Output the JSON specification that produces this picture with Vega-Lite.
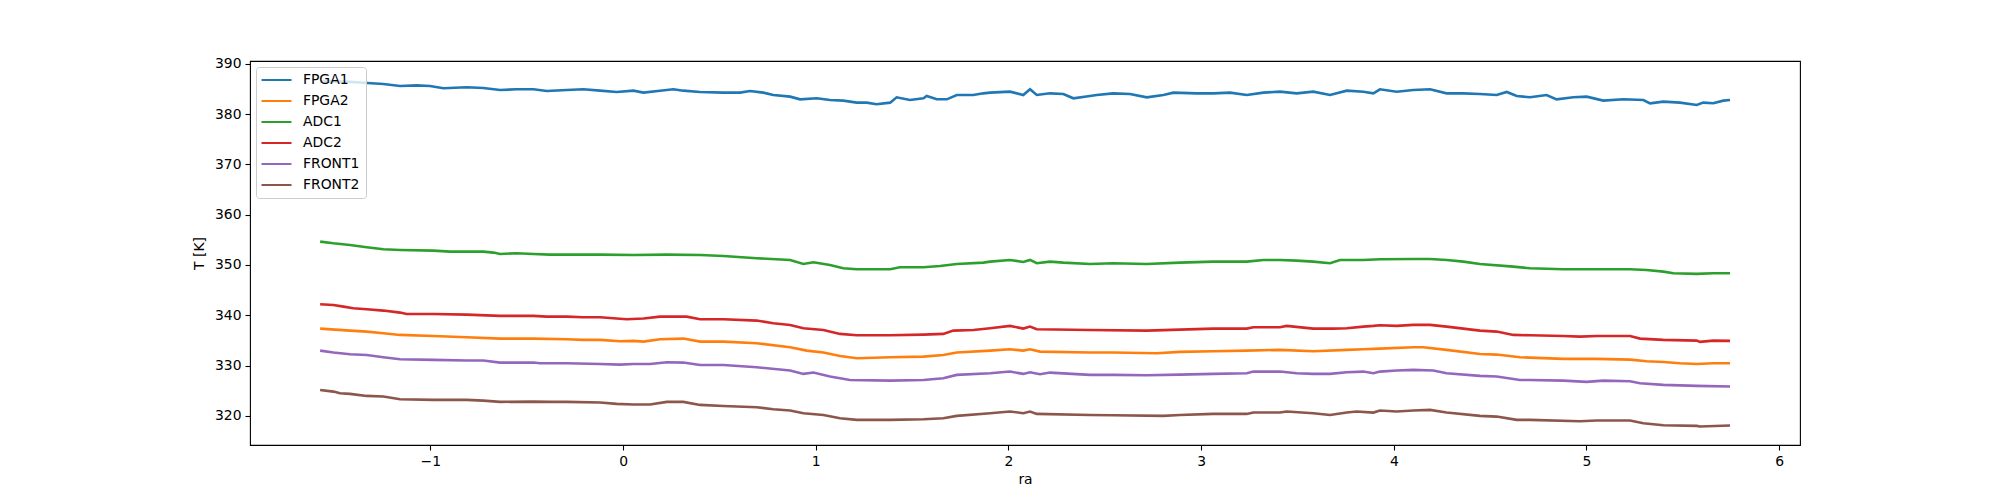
{
  "$schema": "https://vega.github.io/schema/vega-lite/v6.json",
  "width": 1550,
  "height": 384,
  "autosize": "none",
  "padding": {"left": 250, "top": 61, "right": 200, "bottom": 55},
  "background": "white",
  "config": {
    "font": "DejaVu Sans",
    "view": {"stroke": "black", "strokeWidth": 1.1},
    "axis": {
      "grid": false, "domain": false, "tickColor": "black", "tickSize": 5, "tickWidth": 1.1,
      "labelColor": "black", "labelFontSize": 13.9, "labelPadding": 4, "labelFont": "DejaVu Sans",
      "titleColor": "black", "titleFontSize": 13.9, "titleFontWeight": "normal", "titleFont": "DejaVu Sans"
    }
  },
  "data": {"values": [
    {"s":"FPGA1","ra":-1.572,"T":386.5},{"s":"FPGA1","ra":-1.434,"T":386.45},{"s":"FPGA1","ra":-1.348,"T":386.25},{"s":"FPGA1","ra":-1.244,"T":386.0},{"s":"FPGA1","ra":-1.157,"T":385.6},{"s":"FPGA1","ra":-1.071,"T":385.72},{"s":"FPGA1","ra":-1.002,"T":385.6},{"s":"FPGA1","ra":-0.932,"T":385.13},{"s":"FPGA1","ra":-0.811,"T":385.33},{"s":"FPGA1","ra":-0.725,"T":385.2},{"s":"FPGA1","ra":-0.638,"T":384.8},{"s":"FPGA1","ra":-0.552,"T":384.93},{"s":"FPGA1","ra":-0.465,"T":384.93},{"s":"FPGA1","ra":-0.396,"T":384.6},{"s":"FPGA1","ra":-0.292,"T":384.8},{"s":"FPGA1","ra":-0.206,"T":384.93},{"s":"FPGA1","ra":-0.119,"T":384.66},{"s":"FPGA1","ra":-0.033,"T":384.4},{"s":"FPGA1","ra":0.054,"T":384.66},{"s":"FPGA1","ra":0.106,"T":384.27},{"s":"FPGA1","ra":0.192,"T":384.66},{"s":"FPGA1","ra":0.261,"T":384.93},{"s":"FPGA1","ra":0.313,"T":384.66},{"s":"FPGA1","ra":0.4,"T":384.4},{"s":"FPGA1","ra":0.521,"T":384.27},{"s":"FPGA1","ra":0.607,"T":384.27},{"s":"FPGA1","ra":0.659,"T":384.6},{"s":"FPGA1","ra":0.728,"T":384.27},{"s":"FPGA1","ra":0.78,"T":383.8},{"s":"FPGA1","ra":0.867,"T":383.47},{"s":"FPGA1","ra":0.919,"T":382.94},{"s":"FPGA1","ra":1.005,"T":383.14},{"s":"FPGA1","ra":1.074,"T":382.81},{"s":"FPGA1","ra":1.143,"T":382.68},{"s":"FPGA1","ra":1.213,"T":382.28},{"s":"FPGA1","ra":1.264,"T":382.28},{"s":"FPGA1","ra":1.316,"T":381.95},{"s":"FPGA1","ra":1.386,"T":382.28},{"s":"FPGA1","ra":1.42,"T":383.34},{"s":"FPGA1","ra":1.489,"T":382.81},{"s":"FPGA1","ra":1.559,"T":383.14},{"s":"FPGA1","ra":1.576,"T":383.6},{"s":"FPGA1","ra":1.628,"T":382.94},{"s":"FPGA1","ra":1.68,"T":382.94},{"s":"FPGA1","ra":1.732,"T":383.8},{"s":"FPGA1","ra":1.818,"T":383.8},{"s":"FPGA1","ra":1.87,"T":384.13},{"s":"FPGA1","ra":1.905,"T":384.27},{"s":"FPGA1","ra":2.008,"T":384.46},{"s":"FPGA1","ra":2.077,"T":383.8},{"s":"FPGA1","ra":2.112,"T":384.93},{"s":"FPGA1","ra":2.147,"T":383.8},{"s":"FPGA1","ra":2.216,"T":384.13},{"s":"FPGA1","ra":2.285,"T":384.0},{"s":"FPGA1","ra":2.337,"T":383.14},{"s":"FPGA1","ra":2.423,"T":383.6},{"s":"FPGA1","ra":2.458,"T":383.8},{"s":"FPGA1","ra":2.544,"T":384.13},{"s":"FPGA1","ra":2.631,"T":384.0},{"s":"FPGA1","ra":2.718,"T":383.34},{"s":"FPGA1","ra":2.804,"T":383.8},{"s":"FPGA1","ra":2.856,"T":384.27},{"s":"FPGA1","ra":2.977,"T":384.13},{"s":"FPGA1","ra":3.063,"T":384.13},{"s":"FPGA1","ra":3.15,"T":384.27},{"s":"FPGA1","ra":3.237,"T":383.8},{"s":"FPGA1","ra":3.323,"T":384.27},{"s":"FPGA1","ra":3.409,"T":384.46},{"s":"FPGA1","ra":3.496,"T":384.13},{"s":"FPGA1","ra":3.582,"T":384.46},{"s":"FPGA1","ra":3.669,"T":383.8},{"s":"FPGA1","ra":3.756,"T":384.66},{"s":"FPGA1","ra":3.842,"T":384.46},{"s":"FPGA1","ra":3.894,"T":384.13},{"s":"FPGA1","ra":3.928,"T":384.93},{"s":"FPGA1","ra":4.015,"T":384.46},{"s":"FPGA1","ra":4.101,"T":384.8},{"s":"FPGA1","ra":4.188,"T":384.93},{"s":"FPGA1","ra":4.274,"T":384.13},{"s":"FPGA1","ra":4.361,"T":384.13},{"s":"FPGA1","ra":4.447,"T":384.0},{"s":"FPGA1","ra":4.534,"T":383.8},{"s":"FPGA1","ra":4.586,"T":384.4},{"s":"FPGA1","ra":4.638,"T":383.6},{"s":"FPGA1","ra":4.707,"T":383.34},{"s":"FPGA1","ra":4.793,"T":383.8},{"s":"FPGA1","ra":4.845,"T":382.94},{"s":"FPGA1","ra":4.932,"T":383.34},{"s":"FPGA1","ra":5.001,"T":383.47},{"s":"FPGA1","ra":5.087,"T":382.68},{"s":"FPGA1","ra":5.191,"T":382.94},{"s":"FPGA1","ra":5.295,"T":382.81},{"s":"FPGA1","ra":5.33,"T":382.15},{"s":"FPGA1","ra":5.399,"T":382.48},{"s":"FPGA1","ra":5.485,"T":382.28},{"s":"FPGA1","ra":5.572,"T":381.81},{"s":"FPGA1","ra":5.606,"T":382.28},{"s":"FPGA1","ra":5.658,"T":382.15},{"s":"FPGA1","ra":5.71,"T":382.68},{"s":"FPGA1","ra":5.745,"T":382.81},

    {"s":"FPGA2","ra":-1.572,"T":337.35},{"s":"FPGA2","ra":-1.417,"T":336.95},{"s":"FPGA2","ra":-1.33,"T":336.75},{"s":"FPGA2","ra":-1.244,"T":336.42},{"s":"FPGA2","ra":-1.157,"T":336.09},{"s":"FPGA2","ra":-0.984,"T":335.89},{"s":"FPGA2","ra":-0.811,"T":335.62},{"s":"FPGA2","ra":-0.638,"T":335.36},{"s":"FPGA2","ra":-0.465,"T":335.36},{"s":"FPGA2","ra":-0.292,"T":335.23},{"s":"FPGA2","ra":-0.206,"T":335.1},{"s":"FPGA2","ra":-0.119,"T":335.1},{"s":"FPGA2","ra":-0.016,"T":334.83},{"s":"FPGA2","ra":0.054,"T":334.9},{"s":"FPGA2","ra":0.106,"T":334.76},{"s":"FPGA2","ra":0.192,"T":335.23},{"s":"FPGA2","ra":0.313,"T":335.36},{"s":"FPGA2","ra":0.4,"T":334.76},{"s":"FPGA2","ra":0.521,"T":334.76},{"s":"FPGA2","ra":0.694,"T":334.43},{"s":"FPGA2","ra":0.867,"T":333.64},{"s":"FPGA2","ra":0.953,"T":332.97},{"s":"FPGA2","ra":1.04,"T":332.58},{"s":"FPGA2","ra":1.126,"T":331.91},{"s":"FPGA2","ra":1.213,"T":331.45},{"s":"FPGA2","ra":1.386,"T":331.65},{"s":"FPGA2","ra":1.559,"T":331.78},{"s":"FPGA2","ra":1.662,"T":332.11},{"s":"FPGA2","ra":1.732,"T":332.58},{"s":"FPGA2","ra":1.905,"T":332.97},{"s":"FPGA2","ra":2.008,"T":333.24},{"s":"FPGA2","ra":2.077,"T":332.97},{"s":"FPGA2","ra":2.112,"T":333.24},{"s":"FPGA2","ra":2.164,"T":332.77},{"s":"FPGA2","ra":2.423,"T":332.58},{"s":"FPGA2","ra":2.544,"T":332.58},{"s":"FPGA2","ra":2.77,"T":332.45},{"s":"FPGA2","ra":2.89,"T":332.71},{"s":"FPGA2","ra":3.063,"T":332.84},{"s":"FPGA2","ra":3.237,"T":332.97},{"s":"FPGA2","ra":3.409,"T":333.11},{"s":"FPGA2","ra":3.582,"T":332.84},{"s":"FPGA2","ra":3.756,"T":333.11},{"s":"FPGA2","ra":3.842,"T":333.24},{"s":"FPGA2","ra":3.928,"T":333.37},{"s":"FPGA2","ra":4.101,"T":333.64},{"s":"FPGA2","ra":4.153,"T":333.64},{"s":"FPGA2","ra":4.274,"T":333.11},{"s":"FPGA2","ra":4.447,"T":332.31},{"s":"FPGA2","ra":4.534,"T":332.18},{"s":"FPGA2","ra":4.655,"T":331.65},{"s":"FPGA2","ra":4.707,"T":331.58},{"s":"FPGA2","ra":4.88,"T":331.32},{"s":"FPGA2","ra":5.053,"T":331.32},{"s":"FPGA2","ra":5.226,"T":331.18},{"s":"FPGA2","ra":5.312,"T":330.85},{"s":"FPGA2","ra":5.399,"T":330.72},{"s":"FPGA2","ra":5.485,"T":330.46},{"s":"FPGA2","ra":5.572,"T":330.32},{"s":"FPGA2","ra":5.658,"T":330.46},{"s":"FPGA2","ra":5.745,"T":330.46},

    {"s":"ADC1","ra":-1.572,"T":354.64},{"s":"ADC1","ra":-1.503,"T":354.31},{"s":"ADC1","ra":-1.417,"T":353.98},{"s":"ADC1","ra":-1.33,"T":353.52},{"s":"ADC1","ra":-1.244,"T":353.12},{"s":"ADC1","ra":-1.157,"T":352.99},{"s":"ADC1","ra":-0.984,"T":352.86},{"s":"ADC1","ra":-0.898,"T":352.66},{"s":"ADC1","ra":-0.811,"T":352.66},{"s":"ADC1","ra":-0.725,"T":352.66},{"s":"ADC1","ra":-0.673,"T":352.46},{"s":"ADC1","ra":-0.638,"T":352.19},{"s":"ADC1","ra":-0.552,"T":352.32},{"s":"ADC1","ra":-0.465,"T":352.19},{"s":"ADC1","ra":-0.379,"T":352.06},{"s":"ADC1","ra":-0.292,"T":352.06},{"s":"ADC1","ra":-0.119,"T":352.06},{"s":"ADC1","ra":0.054,"T":351.99},{"s":"ADC1","ra":0.227,"T":352.06},{"s":"ADC1","ra":0.4,"T":351.99},{"s":"ADC1","ra":0.521,"T":351.79},{"s":"ADC1","ra":0.694,"T":351.33},{"s":"ADC1","ra":0.867,"T":351.0},{"s":"ADC1","ra":0.936,"T":350.2},{"s":"ADC1","ra":0.988,"T":350.54},{"s":"ADC1","ra":1.074,"T":350.0},{"s":"ADC1","ra":1.143,"T":349.34},{"s":"ADC1","ra":1.213,"T":349.14},{"s":"ADC1","ra":1.386,"T":349.14},{"s":"ADC1","ra":1.437,"T":349.54},{"s":"ADC1","ra":1.559,"T":349.54},{"s":"ADC1","ra":1.645,"T":349.8},{"s":"ADC1","ra":1.732,"T":350.2},{"s":"ADC1","ra":1.87,"T":350.47},{"s":"ADC1","ra":1.905,"T":350.67},{"s":"ADC1","ra":2.008,"T":351.0},{"s":"ADC1","ra":2.077,"T":350.6},{"s":"ADC1","ra":2.112,"T":351.0},{"s":"ADC1","ra":2.147,"T":350.34},{"s":"ADC1","ra":2.216,"T":350.67},{"s":"ADC1","ra":2.285,"T":350.47},{"s":"ADC1","ra":2.423,"T":350.2},{"s":"ADC1","ra":2.544,"T":350.34},{"s":"ADC1","ra":2.718,"T":350.2},{"s":"ADC1","ra":2.89,"T":350.47},{"s":"ADC1","ra":3.063,"T":350.67},{"s":"ADC1","ra":3.237,"T":350.67},{"s":"ADC1","ra":3.323,"T":351.0},{"s":"ADC1","ra":3.409,"T":351.0},{"s":"ADC1","ra":3.496,"T":350.87},{"s":"ADC1","ra":3.582,"T":350.67},{"s":"ADC1","ra":3.669,"T":350.34},{"s":"ADC1","ra":3.721,"T":351.0},{"s":"ADC1","ra":3.842,"T":351.0},{"s":"ADC1","ra":3.928,"T":351.13},{"s":"ADC1","ra":4.101,"T":351.2},{"s":"ADC1","ra":4.188,"T":351.2},{"s":"ADC1","ra":4.274,"T":351.0},{"s":"ADC1","ra":4.361,"T":350.67},{"s":"ADC1","ra":4.447,"T":350.2},{"s":"ADC1","ra":4.62,"T":349.67},{"s":"ADC1","ra":4.707,"T":349.34},{"s":"ADC1","ra":4.88,"T":349.14},{"s":"ADC1","ra":5.053,"T":349.14},{"s":"ADC1","ra":5.226,"T":349.14},{"s":"ADC1","ra":5.312,"T":349.01},{"s":"ADC1","ra":5.399,"T":348.68},{"s":"ADC1","ra":5.451,"T":348.35},{"s":"ADC1","ra":5.572,"T":348.22},{"s":"ADC1","ra":5.658,"T":348.35},{"s":"ADC1","ra":5.745,"T":348.35},

    {"s":"ADC2","ra":-1.572,"T":342.19},{"s":"ADC2","ra":-1.503,"T":342.05},{"s":"ADC2","ra":-1.451,"T":341.72},{"s":"ADC2","ra":-1.4,"T":341.39},{"s":"ADC2","ra":-1.33,"T":341.19},{"s":"ADC2","ra":-1.244,"T":340.93},{"s":"ADC2","ra":-1.157,"T":340.53},{"s":"ADC2","ra":-1.123,"T":340.26},{"s":"ADC2","ra":-0.984,"T":340.26},{"s":"ADC2","ra":-0.811,"T":340.13},{"s":"ADC2","ra":-0.638,"T":339.87},{"s":"ADC2","ra":-0.465,"T":339.87},{"s":"ADC2","ra":-0.396,"T":339.73},{"s":"ADC2","ra":-0.292,"T":339.73},{"s":"ADC2","ra":-0.206,"T":339.6},{"s":"ADC2","ra":-0.119,"T":339.6},{"s":"ADC2","ra":-0.033,"T":339.34},{"s":"ADC2","ra":0.019,"T":339.2},{"s":"ADC2","ra":0.106,"T":339.34},{"s":"ADC2","ra":0.192,"T":339.73},{"s":"ADC2","ra":0.279,"T":339.73},{"s":"ADC2","ra":0.33,"T":339.73},{"s":"ADC2","ra":0.4,"T":339.2},{"s":"ADC2","ra":0.521,"T":339.2},{"s":"ADC2","ra":0.694,"T":338.94},{"s":"ADC2","ra":0.78,"T":338.41},{"s":"ADC2","ra":0.867,"T":338.08},{"s":"ADC2","ra":0.936,"T":337.41},{"s":"ADC2","ra":1.04,"T":337.08},{"s":"ADC2","ra":1.126,"T":336.29},{"s":"ADC2","ra":1.213,"T":336.02},{"s":"ADC2","ra":1.386,"T":336.02},{"s":"ADC2","ra":1.559,"T":336.15},{"s":"ADC2","ra":1.662,"T":336.29},{"s":"ADC2","ra":1.714,"T":336.95},{"s":"ADC2","ra":1.818,"T":337.08},{"s":"ADC2","ra":1.905,"T":337.41},{"s":"ADC2","ra":2.008,"T":337.88},{"s":"ADC2","ra":2.077,"T":337.35},{"s":"ADC2","ra":2.112,"T":337.74},{"s":"ADC2","ra":2.147,"T":337.22},{"s":"ADC2","ra":2.423,"T":337.08},{"s":"ADC2","ra":2.718,"T":336.95},{"s":"ADC2","ra":3.063,"T":337.35},{"s":"ADC2","ra":3.237,"T":337.35},{"s":"ADC2","ra":3.271,"T":337.61},{"s":"ADC2","ra":3.409,"T":337.61},{"s":"ADC2","ra":3.444,"T":337.88},{"s":"ADC2","ra":3.582,"T":337.35},{"s":"ADC2","ra":3.686,"T":337.35},{"s":"ADC2","ra":3.756,"T":337.41},{"s":"ADC2","ra":3.842,"T":337.74},{"s":"ADC2","ra":3.894,"T":337.88},{"s":"ADC2","ra":3.928,"T":338.01},{"s":"ADC2","ra":4.015,"T":337.88},{"s":"ADC2","ra":4.101,"T":338.08},{"s":"ADC2","ra":4.188,"T":338.08},{"s":"ADC2","ra":4.274,"T":337.74},{"s":"ADC2","ra":4.447,"T":336.95},{"s":"ADC2","ra":4.534,"T":336.75},{"s":"ADC2","ra":4.62,"T":336.09},{"s":"ADC2","ra":4.707,"T":336.02},{"s":"ADC2","ra":4.88,"T":335.89},{"s":"ADC2","ra":4.966,"T":335.76},{"s":"ADC2","ra":5.053,"T":335.89},{"s":"ADC2","ra":5.226,"T":335.89},{"s":"ADC2","ra":5.278,"T":335.36},{"s":"ADC2","ra":5.399,"T":335.1},{"s":"ADC2","ra":5.572,"T":334.96},{"s":"ADC2","ra":5.589,"T":334.7},{"s":"ADC2","ra":5.658,"T":334.96},{"s":"ADC2","ra":5.745,"T":334.9},

    {"s":"FRONT1","ra":-1.572,"T":332.97},{"s":"FRONT1","ra":-1.503,"T":332.58},{"s":"FRONT1","ra":-1.417,"T":332.24},{"s":"FRONT1","ra":-1.33,"T":332.11},{"s":"FRONT1","ra":-1.244,"T":331.65},{"s":"FRONT1","ra":-1.157,"T":331.25},{"s":"FRONT1","ra":-0.984,"T":331.12},{"s":"FRONT1","ra":-0.811,"T":330.99},{"s":"FRONT1","ra":-0.725,"T":330.99},{"s":"FRONT1","ra":-0.638,"T":330.59},{"s":"FRONT1","ra":-0.465,"T":330.59},{"s":"FRONT1","ra":-0.431,"T":330.46},{"s":"FRONT1","ra":-0.292,"T":330.46},{"s":"FRONT1","ra":-0.119,"T":330.32},{"s":"FRONT1","ra":-0.016,"T":330.19},{"s":"FRONT1","ra":0.054,"T":330.32},{"s":"FRONT1","ra":0.14,"T":330.32},{"s":"FRONT1","ra":0.227,"T":330.65},{"s":"FRONT1","ra":0.313,"T":330.59},{"s":"FRONT1","ra":0.4,"T":330.12},{"s":"FRONT1","ra":0.521,"T":330.12},{"s":"FRONT1","ra":0.694,"T":329.66},{"s":"FRONT1","ra":0.867,"T":329.0},{"s":"FRONT1","ra":0.936,"T":328.34},{"s":"FRONT1","ra":0.988,"T":328.6},{"s":"FRONT1","ra":1.074,"T":327.81},{"s":"FRONT1","ra":1.178,"T":327.14},{"s":"FRONT1","ra":1.386,"T":327.01},{"s":"FRONT1","ra":1.559,"T":327.14},{"s":"FRONT1","ra":1.662,"T":327.47},{"s":"FRONT1","ra":1.732,"T":328.14},{"s":"FRONT1","ra":1.905,"T":328.47},{"s":"FRONT1","ra":2.008,"T":328.8},{"s":"FRONT1","ra":2.077,"T":328.34},{"s":"FRONT1","ra":2.112,"T":328.67},{"s":"FRONT1","ra":2.164,"T":328.27},{"s":"FRONT1","ra":2.216,"T":328.6},{"s":"FRONT1","ra":2.423,"T":328.14},{"s":"FRONT1","ra":2.544,"T":328.14},{"s":"FRONT1","ra":2.718,"T":328.07},{"s":"FRONT1","ra":2.89,"T":328.2},{"s":"FRONT1","ra":3.063,"T":328.34},{"s":"FRONT1","ra":3.237,"T":328.47},{"s":"FRONT1","ra":3.271,"T":328.8},{"s":"FRONT1","ra":3.409,"T":328.8},{"s":"FRONT1","ra":3.496,"T":328.47},{"s":"FRONT1","ra":3.582,"T":328.34},{"s":"FRONT1","ra":3.669,"T":328.34},{"s":"FRONT1","ra":3.756,"T":328.67},{"s":"FRONT1","ra":3.842,"T":328.8},{"s":"FRONT1","ra":3.894,"T":328.47},{"s":"FRONT1","ra":3.928,"T":328.8},{"s":"FRONT1","ra":4.015,"T":329.0},{"s":"FRONT1","ra":4.101,"T":329.13},{"s":"FRONT1","ra":4.205,"T":329.0},{"s":"FRONT1","ra":4.274,"T":328.47},{"s":"FRONT1","ra":4.447,"T":327.94},{"s":"FRONT1","ra":4.534,"T":327.81},{"s":"FRONT1","ra":4.655,"T":327.14},{"s":"FRONT1","ra":4.707,"T":327.14},{"s":"FRONT1","ra":4.88,"T":327.01},{"s":"FRONT1","ra":5.001,"T":326.75},{"s":"FRONT1","ra":5.087,"T":327.01},{"s":"FRONT1","ra":5.226,"T":326.88},{"s":"FRONT1","ra":5.278,"T":326.48},{"s":"FRONT1","ra":5.399,"T":326.15},{"s":"FRONT1","ra":5.572,"T":325.95},{"s":"FRONT1","ra":5.745,"T":325.82},

    {"s":"FRONT2","ra":-1.572,"T":325.15},{"s":"FRONT2","ra":-1.503,"T":324.82},{"s":"FRONT2","ra":-1.469,"T":324.49},{"s":"FRONT2","ra":-1.417,"T":324.36},{"s":"FRONT2","ra":-1.33,"T":323.96},{"s":"FRONT2","ra":-1.244,"T":323.83},{"s":"FRONT2","ra":-1.157,"T":323.3},{"s":"FRONT2","ra":-0.984,"T":323.17},{"s":"FRONT2","ra":-0.811,"T":323.17},{"s":"FRONT2","ra":-0.725,"T":323.03},{"s":"FRONT2","ra":-0.638,"T":322.77},{"s":"FRONT2","ra":-0.465,"T":322.83},{"s":"FRONT2","ra":-0.379,"T":322.77},{"s":"FRONT2","ra":-0.292,"T":322.77},{"s":"FRONT2","ra":-0.119,"T":322.64},{"s":"FRONT2","ra":-0.033,"T":322.37},{"s":"FRONT2","ra":0.054,"T":322.24},{"s":"FRONT2","ra":0.14,"T":322.24},{"s":"FRONT2","ra":0.227,"T":322.77},{"s":"FRONT2","ra":0.313,"T":322.77},{"s":"FRONT2","ra":0.4,"T":322.17},{"s":"FRONT2","ra":0.521,"T":321.97},{"s":"FRONT2","ra":0.694,"T":321.71},{"s":"FRONT2","ra":0.78,"T":321.31},{"s":"FRONT2","ra":0.867,"T":321.05},{"s":"FRONT2","ra":0.936,"T":320.52},{"s":"FRONT2","ra":1.04,"T":320.18},{"s":"FRONT2","ra":1.126,"T":319.52},{"s":"FRONT2","ra":1.213,"T":319.19},{"s":"FRONT2","ra":1.386,"T":319.19},{"s":"FRONT2","ra":1.559,"T":319.33},{"s":"FRONT2","ra":1.662,"T":319.52},{"s":"FRONT2","ra":1.732,"T":319.99},{"s":"FRONT2","ra":1.905,"T":320.52},{"s":"FRONT2","ra":2.008,"T":320.85},{"s":"FRONT2","ra":2.077,"T":320.52},{"s":"FRONT2","ra":2.112,"T":320.85},{"s":"FRONT2","ra":2.147,"T":320.38},{"s":"FRONT2","ra":2.423,"T":320.18},{"s":"FRONT2","ra":2.544,"T":320.12},{"s":"FRONT2","ra":2.804,"T":319.99},{"s":"FRONT2","ra":2.89,"T":320.18},{"s":"FRONT2","ra":3.063,"T":320.38},{"s":"FRONT2","ra":3.237,"T":320.38},{"s":"FRONT2","ra":3.271,"T":320.65},{"s":"FRONT2","ra":3.409,"T":320.65},{"s":"FRONT2","ra":3.444,"T":320.85},{"s":"FRONT2","ra":3.582,"T":320.52},{"s":"FRONT2","ra":3.669,"T":320.18},{"s":"FRONT2","ra":3.756,"T":320.65},{"s":"FRONT2","ra":3.807,"T":320.85},{"s":"FRONT2","ra":3.894,"T":320.65},{"s":"FRONT2","ra":3.928,"T":321.05},{"s":"FRONT2","ra":4.015,"T":320.85},{"s":"FRONT2","ra":4.101,"T":321.05},{"s":"FRONT2","ra":4.188,"T":321.18},{"s":"FRONT2","ra":4.274,"T":320.65},{"s":"FRONT2","ra":4.447,"T":319.99},{"s":"FRONT2","ra":4.534,"T":319.85},{"s":"FRONT2","ra":4.638,"T":319.19},{"s":"FRONT2","ra":4.707,"T":319.19},{"s":"FRONT2","ra":4.966,"T":318.93},{"s":"FRONT2","ra":5.053,"T":319.06},{"s":"FRONT2","ra":5.226,"T":319.06},{"s":"FRONT2","ra":5.295,"T":318.53},{"s":"FRONT2","ra":5.399,"T":318.13},{"s":"FRONT2","ra":5.572,"T":318.0},{"s":"FRONT2","ra":5.589,"T":317.87},{"s":"FRONT2","ra":5.745,"T":318.07}
  ]},
  "mark": {"type": "line", "strokeWidth": 2.6, "clip": true},
  "encoding": {
    "x": {
      "field": "ra", "type": "quantitative", "title": "ra",
      "scale": {"domain": [-1.936, 6.108], "nice": false, "zero": false},
      "axis": {"values": [-1, 0, 1, 2, 3, 4, 5, 6], "format": "d", "titlePadding": 5}
    },
    "y": {
      "field": "T", "type": "quantitative", "title": "T [K]",
      "scale": {"domain": [314.2, 390.56], "nice": false, "zero": false},
      "axis": {"values": [320, 330, 340, 350, 360, 370, 380, 390], "format": "d", "titlePadding": 8}
    },
    "color": {
      "field": "s", "type": "nominal", "sort": ["FPGA1", "FPGA2", "ADC1", "ADC2", "FRONT1", "FRONT2"],
      "scale": {"domain": ["FPGA1", "FPGA2", "ADC1", "ADC2", "FRONT1", "FRONT2"], "range": ["#1f77b4", "#ff7f0e", "#2ca02c", "#d62728", "#9467bd", "#8c564b"]},
      "legend": {
        "title": null, "orient": "top-left", "offset": 6, "padding": 6,
        "fillColor": "rgba(255,255,255,0.8)", "strokeColor": "#cccccc", "cornerRadius": 3,
        "symbolType": "M-2.5,0H2.5", "symbolSize": 144, "symbolStrokeWidth": 2, "symbolOffset": 7.5,
        "labelFontSize": 13.9, "labelColor": "black", "labelFont": "DejaVu Sans", "labelOffset": 19.5,
        "rowPadding": 7
      }
    }
  }
}
